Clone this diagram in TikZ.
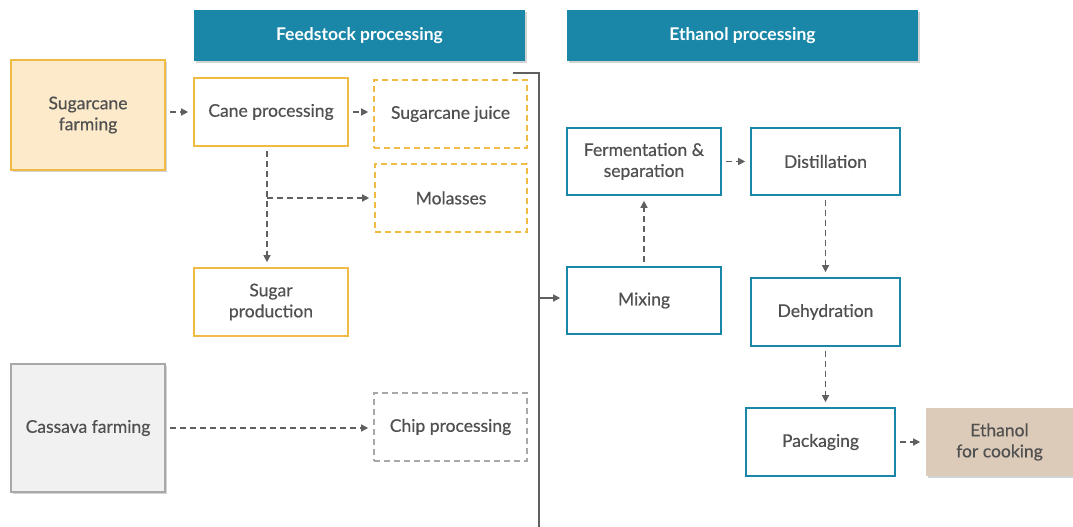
\documentclass[tikz,border=0pt]{standalone}
\usepackage{fontspec}
\setmainfont{Lato}
\newfontfamily\boxfont{Lato}[FakeBold=0.5]
\usepackage{tikz}
\usetikzlibrary{shadows}
\usetikzlibrary{positioning}
\usetikzlibrary{arrows.meta}
\definecolor{teal}{HTML}{1A87A8}
\definecolor{cane}{HTML}{EFBB45}
\definecolor{canefill}{HTML}{FDEACB}
\definecolor{grayline}{HTML}{A8A8A8}
\definecolor{grayfill}{HTML}{F1F1F1}
\definecolor{tan}{HTML}{DCCBB8}
\definecolor{txt}{HTML}{505050}
\definecolor{arr}{HTML}{606060}
\tikzset{every picture/.style={x=1pt,y=-1pt},
  box/.style={draw,line width=1.6pt,align=center,text=txt,inner sep=0pt,
    font=\fontsize{17.5}{21}\boxfont},
  head/.style={box,draw=none,fill=teal,text=white,font=\fontsize{17.5}{21}\selectfont\bfseries,
    drop shadow={shadow xshift=2pt,shadow yshift=-2pt,opacity=0.35}},
  canebox/.style={box,draw=cane,fill=white},
  dashbox/.style={box,fill=white,dash pattern=on 6pt off 4pt},
  ethbox/.style={box,draw=teal,fill=white},
  farm/.style={box,drop shadow={shadow xshift=2pt,shadow yshift=-2pt,opacity=0.35}},
  flow/.style={draw=arr,line width=1.3pt,dash pattern=on 6pt off 4pt,
    -{Triangle[length=7pt,width=7pt]},shorten <=4pt,shorten >=5pt}}

\begin{document}
\begin{tikzpicture}
\useasboundingbox (0,0) rectangle (1073,527);

% column heads
\node (feed) at (359.5,35.5) [head,minimum width=331,minimum height=51] {Feedstock processing};
\node (ethp) at (742.5,35.5) [head,minimum width=351,minimum height=51] {Ethanol processing};

% feedstock
\node (scf) at (88,115) [farm,draw=cane,fill=canefill,minimum width=154,minimum height=110] {Sugarcane\\farming};
\node (cane) at (271,112) [canebox,minimum width=154,minimum height=68] {Cane processing};
\node (juice) at (450.5,114) [dashbox,draw=cane,minimum width=153,minimum height=68] {Sugarcane juice};
\node (mol) at (451,198) [dashbox,draw=cane,minimum width=152,minimum height=68] {Molasses};
\node (sugar) at (271,302) [canebox,minimum width=154,minimum height=68] {Sugar\\production};
\node (cass) at (88,428) [farm,draw=grayline,fill=grayfill,minimum width=154,minimum height=128] {Cassava farming};
\node (chip) at (450.5,427) [dashbox,draw=grayline,minimum width=153,minimum height=68] {Chip processing};

% ethanol
\node (ferm) at (644,161.5) [ethbox,minimum width=154,minimum height=67] {Fermentation \&\\separation};
\node (dist) at (825.5,161.5) [ethbox,minimum width=149,minimum height=67] {Distillation};
\node (mix) at (644,300.5) [ethbox,minimum width=154,minimum height=67] {Mixing};
\node (dehy) at (825.5,312) [ethbox,minimum width=149,minimum height=68] {Dehydration};
\node (pack) at (820.5,442) [ethbox,minimum width=149,minimum height=68] {Packaging};
\node (cook) at (999.5,442) [farm,draw=none,fill=tan,minimum width=147,minimum height=68] {Ethanol\\for cooking};

% divider
\coordinate (jt) at (513,73);
\coordinate (jc) at (539,73);
\coordinate (jb) at (539,527);
\draw[arr,line width=1.6pt] (jt) -- (jc) -- (jb);
\coordinate (mol-in) at (267,198);
\coordinate (mix-in) at (539,298);

\draw[flow] (scf.east |- cane) -- (cane);
\draw[flow] (cane) -- (juice.west |- cane);
\draw[flow] ([xshift=-4pt]cane.south) -- ([xshift=-4pt]cane.south |- sugar.north);
\draw[flow,shorten <=0pt] (mol-in) -- (mol);
\draw[flow] (cass) -- (chip.west |- cass);
\draw[flow,solid,shorten <=0pt,shorten >=6pt] (mix-in) -- (mix.west |- mix-in);
\draw[flow] (mix) -- (ferm);
\draw[flow] (ferm) -- (dist);
\draw[flow] (dist) -- (dehy);
\draw[flow] (dehy) -- (dehy |- pack.north);
\draw[flow] (pack) -- (cook);

\end{tikzpicture}
\end{document}
